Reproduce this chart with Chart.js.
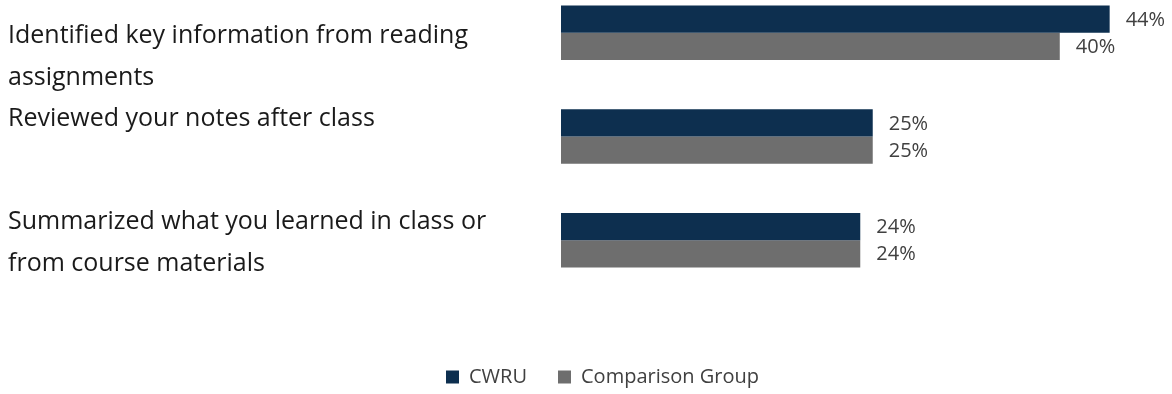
<!DOCTYPE html>
<html>
<head>
<meta charset="utf-8">
<script src="https://cdn.jsdelivr.net/npm/chart.js@4.4.0/dist/chart.umd.min.js"></script>
<style>
  html, body { margin: 0; padding: 0; background: #fff; overflow: hidden; }
  #wrap { position: absolute; left: 0; top: -19px; width: 1172px; height: 416px; }
</style>
</head>
<body>
<div id="wrap"><canvas id="chart"></canvas></div>
<script>
// categories, wrapped the way they are printed
var categories = [
  ['', 'Identified key information from reading', 'assignments'],
  ['Reviewed your notes after class', ''],
  ['Summarized what you learned in class or', 'from course materials']
];
var seriesNames = ['CWRU', 'Comparison Group'];
var cwruValues = [44, 25, 24];
var comparisonValues = [40, 25, 24];

var FONT = '"Open Sans", "Segoe UI", sans-serif';

// percentage text at the end of each bar
var valueLabels = {
  id: 'valueLabels',
  afterDatasetsDraw: function(chart) {
    var ctx = chart.ctx;
    ctx.save();
    ctx.font = '20px ' + FONT;
    ctx.fillStyle = '#404040';
    ctx.textBaseline = 'middle';
    ctx.textAlign = 'left';
    chart.data.datasets.forEach(function(ds, i) {
      chart.getDatasetMeta(i).data.forEach(function(bar, j) {
        ctx.fillText(ds.data[j] + '%', bar.x + 16, bar.y + 1);
      });
    });
    ctx.restore();
  }
};

new Chart(document.getElementById('chart'), {
  type: 'bar',
  data: {
    labels: categories,
    datasets: [{
      label: seriesNames[0],
      data: cwruValues,
      backgroundColor: '#0d2f4f'
    }, {
      label: seriesNames[1],
      data: comparisonValues,
      backgroundColor: '#6e6e6e'
    }]
  },
  options: {
    indexAxis: 'y',
    responsive: true,
    maintainAspectRatio: false,
    animation: false,
    layout: { padding: { left: 8, right: -25, top: 0, bottom: 0 } },
    datasets: { bar: { categoryPercentage: 0.525, barPercentage: 1.0 } },
    plugins: {
      tooltip: { enabled: false },
      legend: {
        position: 'bottom',
        labels: {
          font: { family: FONT, size: 20 },
          color: '#404040',
          boxWidth: 13,
          boxHeight: 13,
          padding: 31
        }
      }
    },
    scales: {
      x: {
        min: 0,
        max: 49,
        grid: { display: false },
        border: { display: false },
        ticks: { display: false },
        afterFit: function(scale) { scale.height = 44; }
      },
      y: {
        grid: { display: false },
        border: { display: false },
        ticks: {
          autoSkip: false,
          crossAlign: 'far',
          labelOffset: 3,
          color: '#1a1a1a',
          font: { family: FONT, size: 25, lineHeight: 1.68 }
        },
        afterFit: function(scale) {
          // tall first/last labels may run past the plot edges
          scale.width = 553;
          scale.paddingTop = 0;
          scale.paddingBottom = 0;
        }
      }
    }
  },
  plugins: [valueLabels]
});
</script>
</body>
</html>
